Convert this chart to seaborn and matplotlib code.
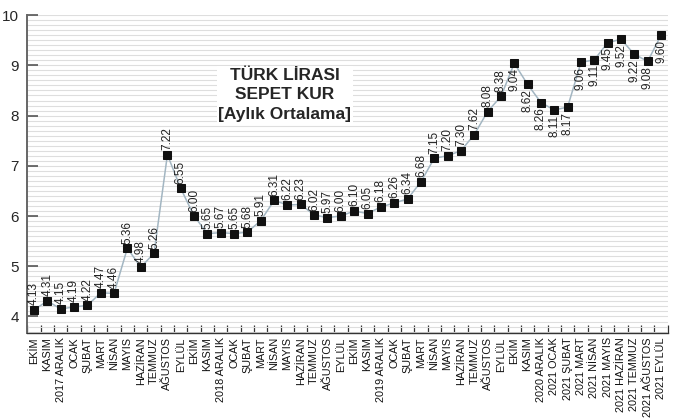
import matplotlib
matplotlib.use('Agg')
import matplotlib.pyplot as plt
import seaborn as sns
import pandas as pd
import numpy as np
from matplotlib.ticker import MultipleLocator, FixedLocator

# monthly average basket rate
months = ['EKİM', 'KASIM', '2017 ARALIK', 'OCAK', 'ŞUBAT', 'MART', 'NİSAN', 'MAYIS',
          'HAZİRAN', 'TEMMUZ', 'AĞUSTOS', 'EYLÜL',
          'EKİM', 'KASIM', '2018 ARALIK', 'OCAK', 'ŞUBAT', 'MART', 'NİSAN', 'MAYIS',
          'HAZİRAN', 'TEMMUZ', 'AĞUSTOS', 'EYLÜL',
          'EKİM', 'KASIM', '2019 ARALIK', 'OCAK', 'ŞUBAT', 'MART', 'NİSAN', 'MAYIS',
          'HAZİRAN', 'TEMMUZ', 'AĞUSTOS', 'EYLÜL',
          'EKİM', 'KASIM', '2020 ARALIK', '2021 OCAK', '2021 ŞUBAT', '2021 MART',
          '2021 NİSAN', '2021 MAYIS', '2021 HAZİRAN', '2021 TEMMUZ', '2021 AĞUSTOS',
          '2021 EYLÜL']
rate = [4.13, 4.31, 4.15, 4.19, 4.22, 4.47, 4.46, 5.36, 4.98, 5.26, 7.22, 6.55,
        6.00, 5.65, 5.67, 5.65, 5.68, 5.91, 6.31, 6.22, 6.23, 6.02, 5.97, 6.00,
        6.10, 6.05, 6.18, 6.26, 6.34, 6.68, 7.15, 7.20, 7.30, 7.62, 8.08, 8.38,
        9.04, 8.62, 8.26, 8.11, 8.17, 9.06, 9.11, 9.45, 9.52, 9.22, 9.08, 9.60]
yticks = [4, 5, 6, 7, 8, 9, 10]

df = pd.DataFrame({'idx': range(len(rate)), 'rate': rate, 'month': months})

sns.set_style('white')
plt.rcParams['font.family'] = ['Liberation Sans Narrow', 'Liberation Sans', 'DejaVu Sans']

fig = plt.figure(figsize=(6.78, 4.2), dpi=100)
ax = fig.add_axes([0.0403, 0.207, 0.9445, 0.757])

sns.lineplot(data=df, x='idx', y='rate', ax=ax, color='#a3b6c2', lw=1.1,
             marker='s', markersize=6.2, markerfacecolor='#111111',
             markeredgecolor='#111111', zorder=3)

# value labels, above until the peak, below afterwards
for i, v in enumerate(rate):
    if i < 36:
        ax.text(i, v + 0.09, f'{v:.2f}', rotation=90, ha='center', va='bottom',
                fontsize=8.5, color='#222222', zorder=4)
    else:
        ax.text(i, v - 0.09, f'{v:.2f}', rotation=90, ha='center', va='top',
                fontsize=8.5, color='#222222', zorder=4)

ax.set_xlim(-0.5, len(rate) - 0.5)
ax.set_ylim(3.67, 10)

# thin stripes in the background
ax.yaxis.set_minor_locator(MultipleLocator(0.1))
ax.grid(axis='y', which='both', color='#dedede', lw=0.8)
ax.set_axisbelow(True)

ax.set_yticks(yticks)
ax.set_yticklabels([str(t) for t in yticks], fontsize=11, family='Liberation Sans')
ax.tick_params(axis='y', which='major', direction='in', length=8, width=1.2,
               color='#555555', pad=6, left=True)
ax.tick_params(axis='y', which='minor', length=0)

ax.set_xticks(range(len(months)))
ax.set_xticklabels(months, rotation=90, fontsize=7.8, color='#111111')
ax.xaxis.set_minor_locator(FixedLocator(np.arange(-0.5, len(rate), 1)))
ax.tick_params(axis='x', which='major', length=0, pad=3)
ax.tick_params(axis='x', which='minor', direction='in', length=6, width=0.9,
               color='#333333', bottom=True)

for side in ['top', 'right']:
    ax.spines[side].set_visible(False)
ax.spines['left'].set_color('#666666')
ax.spines['left'].set_linewidth(1.4)
ax.spines['bottom'].set_color('#333333')
ax.spines['bottom'].set_linewidth(1.0)
ax.set_xlabel('')
ax.set_ylabel('')

ax.text(18.8, 8.41, 'TÜRK LİRASI\nSEPET KUR\n[Aylık Ortalama]', ha='center', va='center',
        fontsize=12.5, fontweight='bold', family='Liberation Sans', linespacing=1.4,
        bbox=dict(facecolor='white', edgecolor='none', pad=1), zorder=5)

fig.savefig('out.png', dpi=100)
